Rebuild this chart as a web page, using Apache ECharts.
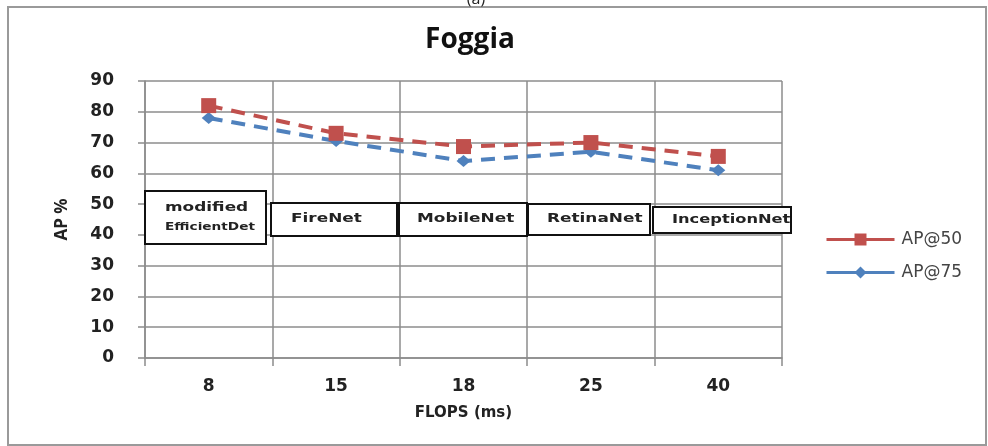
<!DOCTYPE html>
<html>
<head>
<meta charset="utf-8">
<script src="https://cdn.jsdelivr.net/npm/echarts@6/dist/echarts.min.js"></script>
<style>
  html, body { margin: 0; padding: 0; background: #fff; }
  #chart { width: 988px; height: 446px; }
</style>
</head>
<body>
<div id="chart"></div>
<script>
// FLOPS (ms) categories and AP values per model
const flops = ['8', '15', '18', '25', '40'];
const models = ['modified EfficientDet', 'FireNet', 'MobileNet', 'RetinaNet', 'InceptionNet'];
const ap50 = [82, 73, 68.7, 70, 65.5];
const ap75 = [78, 70.5, 64, 67, 61];
const yTicks = [0, 10, 20, 30, 40, 50, 60, 70, 80, 90];

const RED = '#C0504D';
const BLUE = '#4F81BD';
const GRID = '#8c8c8c';
const FONT = 'DejaVu Sans';

// model name boxes drawn over the plot
function labelBox(x, y, w, h, lines) {
  const children = [
    { type: 'rect', shape: { x: x, y: y, width: w, height: h },
      style: { fill: '#fff', stroke: null }, z: 1 }
  ];
  lines.forEach(function (ln) {
    children.push({
      type: 'text', x: ln.x, y: ln.y, scaleX: ln.sx || 1.3, z: 2,
      style: { text: ln.text, font: 'bold ' + ln.size + 'px "' + FONT + '"',
               fill: '#222', textVerticalAlign: 'middle', textAlign: 'left' }
    });
  });
  children.push({ type: 'rect', shape: { x: x, y: y, width: w, height: h },
    style: { fill: null, stroke: '#111', lineWidth: 2 }, z: 3 });
  return { type: 'group', children: children, z: 50 };
}

const chart = echarts.init(document.getElementById('chart'), null, { renderer: 'canvas' });

chart.setOption({
  backgroundColor: '#fff',
  animation: false,
  title: {
    text: 'Foggia', left: 465, top: 21, textAlign: 'center',
    textStyle: { fontFamily: 'Open Sans', fontWeight: 'bold', fontSize: 28, color: '#111' }
  },
  legend: {
    orient: 'vertical', left: 820, top: 226, itemGap: 16,
    itemWidth: 68, itemHeight: 15,
    lineStyle: { type: 'solid', width: 3 },
    textStyle: { fontFamily: FONT, fontSize: 17, color: '#444', padding: [0, 0, 0, 2] },
    data: ['AP@50', 'AP@75']
  },
  grid: { left: 145, right: 206, top: 81, bottom: 88 },
  xAxis: {
    type: 'category', data: flops, boundaryGap: true,
    name: 'FLOPS (ms)', nameLocation: 'middle', nameGap: 48,
    nameTextStyle: { fontFamily: FONT, fontWeight: 'bold', fontSize: 15, color: '#222' },
    axisLine: { lineStyle: { color: GRID, width: 1.5 } },
    axisTick: { show: true, length: 8, lineStyle: { color: GRID, width: 1.5 } },
    axisLabel: { margin: 20, fontFamily: FONT, fontWeight: 'bold', fontSize: 17, color: '#222' },
    splitLine: { show: true, lineStyle: { color: GRID, width: 1.5 } }
  },
  yAxis: {
    type: 'value', min: 0, max: 90, interval: 10,
    name: 'AP %', nameLocation: 'middle', nameGap: 74, nameRotate: 90,
    nameTextStyle: { fontFamily: 'Open Sans', fontWeight: 'bold', fontSize: 17, color: '#222' },
    axisLine: { show: true, lineStyle: { color: GRID, width: 1.5 } },
    axisTick: { show: true, length: 7, lineStyle: { color: GRID, width: 1.5 } },
    axisLabel: {
      margin: 31, fontFamily: FONT, fontWeight: 'bold', fontSize: 17, color: '#222',
      formatter: function (v) { return yTicks.indexOf(v) >= 0 ? String(v) : ''; }
    },
    splitLine: { show: true, lineStyle: { color: GRID, width: 1.5 } }
  },
  series: [
    {
      name: 'AP@50', type: 'line', data: ap50, z: 10,
      symbol: 'rect', symbolSize: 15,
      lineStyle: { color: RED, width: 4, type: [14, 9] },
      itemStyle: { color: RED }
    },
    {
      name: 'AP@75', type: 'line', data: ap75, z: 9,
      symbol: 'diamond', symbolSize: [14, 12],
      lineStyle: { color: BLUE, width: 4, type: [14, 9] },
      itemStyle: { color: BLUE }
    }
  ],
  graphic: [
    { type: 'rect', shape: { x: 8, y: 7, width: 978, height: 438 },
      style: { fill: null, stroke: '#9a9a9a', lineWidth: 2 }, z: 0 },
    { type: 'text', x: 476, y: -9, style: { text: '(a)', font: '16px "Open Sans"', fill: '#222', textAlign: 'center' } },
    labelBox(145, 191, 121, 53, [
      { text: 'modified', x: 165, y: 208, size: 13, sx: 1.3 },
      { text: 'EfficientDet', x: 165, y: 227, size: 10.5, sx: 1.3 }
    ]),
    labelBox(271, 203, 126, 33, [{ text: models[1], x: 291, y: 219, size: 13, sx: 1.3 }]),
    labelBox(399, 203, 128, 33, [{ text: models[2], x: 417, y: 219, size: 13, sx: 1.3 }]),
    labelBox(528, 204, 122, 31, [{ text: models[3], x: 547, y: 219, size: 13, sx: 1.3 }]),
    labelBox(653, 207, 138, 26, [{ text: models[4], x: 672, y: 220, size: 13, sx: 1.25 }])
  ]
});
</script>
</body>
</html>
